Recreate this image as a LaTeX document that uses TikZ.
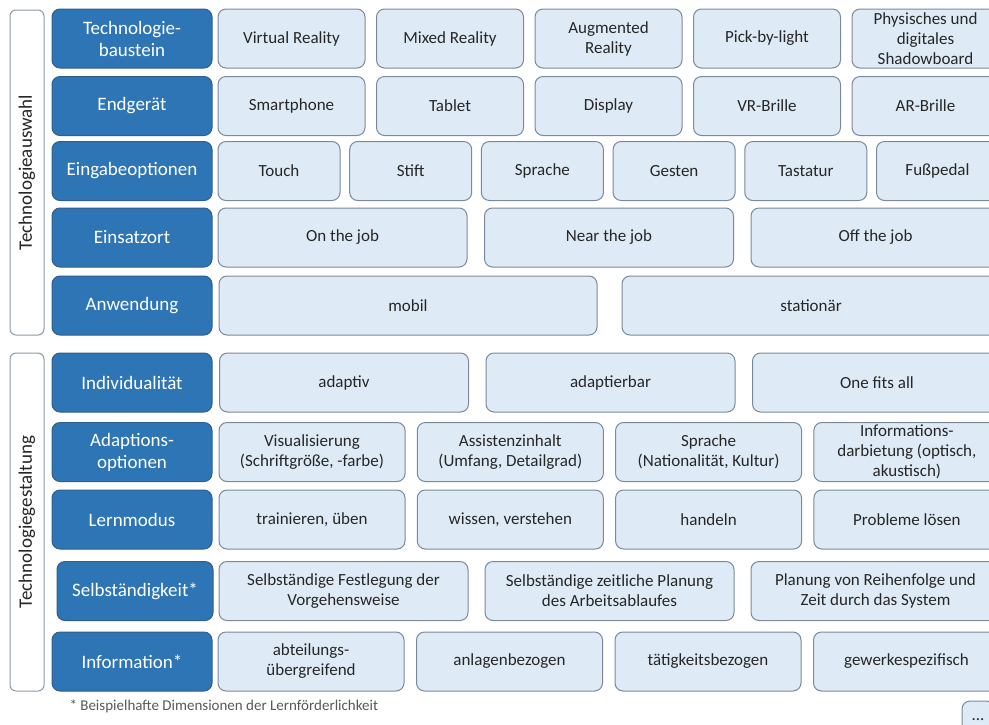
\documentclass[tikz,border=0pt]{standalone}
\usepackage{fontspec}
\setmainfont{Carlito}
\definecolor{catblue}{HTML}{2E75B6}
\definecolor{catline}{HTML}{2F5F8A}
\definecolor{optfill}{HTML}{DEEBF7}
\definecolor{optline}{HTML}{7B8A9A}
\definecolor{groupline}{HTML}{8C9AA6}
\definecolor{opttext}{HTML}{262626}
\tikzset{
  catbox/.style={draw=catline, fill=catblue, rounded corners=8pt, minimum width=160pt,
    minimum height=59pt, inner sep=0pt, text=white, align=center,
    font=\fontsize{19}{22}\selectfont},
  optbox/.style={draw=optline, fill=optfill, rounded corners=8pt, minimum height=59pt,
    inner sep=0pt, text=opttext, align=center, font=\fontsize{17}{20}\selectfont},
  groupbox/.style={draw=groupline, fill=white, rounded corners=6pt, minimum width=34pt,
    inner sep=0pt},
  grouplabel/.style={rotate=90, text=opttext, font=\fontsize{19}{20}\selectfont},
}
\begin{document}
\begin{tikzpicture}[x=1pt, y=-1pt, line width=1pt]

    \clip (0,0) rectangle (989,724);
    \fill[white] (0,0) rectangle (989,724);

    % left groups
    \node[groupbox, minimum height=325pt] (auswahl) at (27,172.5) {};
    \node[grouplabel] (auswahltxt) at (auswahl.center) {Technologieauswahl};
    \node[groupbox, minimum height=338pt] (gestaltung) at (27,522) {};
    \node[grouplabel] (gestaltungtxt) at (gestaltung.center) {Technologiegestaltung};

    % dimensions
    \node[catbox] (baustein) at (132,38.5) {Technologie-\\baustein};
    \node[catbox] (geraet) at (132,106) {Endgerät};
    \node[catbox] (eingabe) at (132,171) {Eingabeoptionen};
    \node[catbox] (ort) at (132,237.5) {Einsatzort};
    \node[catbox] (anwendung) at (132,305.5) {Anwendung};
    \node[catbox] (indiv) at (132,382.5) {Individualität};
    \node[catbox] (adapt) at (132,452) {Adaptions-\\optionen};
    \node[catbox] (modus) at (132,519.5) {Lernmodus};
    \node[catbox, minimum width=156pt] (selbst) at (135,591) {Selbständigkeit*};
    \node[catbox] (info) at (132,661.5) {Information*};

    % options
    \foreach \t [count=\i] in {Virtual Reality, Mixed Reality, {Augmented\\Reality},
        Pick-by-light, {Physisches und\\digitales\\Shadowboard}} {
      \node[optbox, minimum width=147pt] (baustein\i) at ({291.5+158.5*(\i-1)},38.5) {\t};
    }
    \foreach \t [count=\i] in {Smartphone, Tablet, Display, VR-Brille, AR-Brille} {
      \node[optbox, minimum width=147pt] (geraet\i) at ({291.5+158.5*(\i-1)},106) {\t};
    }
    \foreach \t [count=\i] in {Touch, Stift, Sprache, Gesten, Tastatur, Fußpedal} {
      \node[optbox, minimum width=122pt] (eingabe\i) at ({279+131.7*(\i-1)},171) {\t};
    }
    \foreach \t [count=\i] in {On the job, Near the job, Off the job} {
      \node[optbox, minimum width=249pt] (ort\i) at ({342.5+266.5*(\i-1)},237.5) {\t};
    }
    \foreach \t [count=\i] in {mobil, stationär} {
      \node[optbox, minimum width=378pt] (anwendung\i) at ({408+403*(\i-1)},305.5) {\t};
    }
    \foreach \t [count=\i] in {adaptiv, adaptierbar, One fits all} {
      \node[optbox, minimum width=249pt] (indiv\i) at ({344+266.5*(\i-1)},382.5) {\t};
    }
    \foreach \t [count=\i] in {{Visualisierung\\(Schriftgröße, -farbe)},
        {Assistenzinhalt\\(Umfang, Detailgrad)}, {Sprache\\(Nationalität, Kultur)},
        {Informations-\\darbietung (optisch,\\akustisch)}} {
      \node[optbox, minimum width=186pt] (adapt\i) at ({312+198.3*(\i-1)},452) {\t};
    }
    \foreach \t [count=\i] in {{trainieren, üben}, {wissen, verstehen}, handeln,
        Probleme lösen} {
      \node[optbox, minimum width=186pt] (modus\i) at ({312+198.3*(\i-1)},519.5) {\t};
    }
    \foreach \t [count=\i] in {{Selbständige Festlegung der\\Vorgehensweise},
        {Selbständige zeitliche Planung\\des Arbeitsablaufes},
        {Planung von Reihenfolge und\\Zeit durch das System}} {
      \node[optbox, minimum width=249pt] (selbst\i) at ({343.5+266*(\i-1)},591) {\t};
    }
    \foreach \t [count=\i] in {{abteilungs-\\übergreifend}, anlagenbezogen,
        tätigkeitsbezogen, gewerkespezifisch} {
      \node[optbox, minimum width=186pt] (info\i) at ({311+198.5*(\i-1)},661.5) {\t};
    }

    % footnote and more
    \node[anchor=west, text=black!65, font=\fontsize{15}{17}\selectfont, inner sep=0pt]
      (fussnote) at (69,706) {* Beispielhafte Dimensionen der Lernförderlichkeit};
    \node[optbox, minimum width=32pt, minimum height=38pt] (mehr) at (978,720) {...};

  \end{tikzpicture}
\end{document}
